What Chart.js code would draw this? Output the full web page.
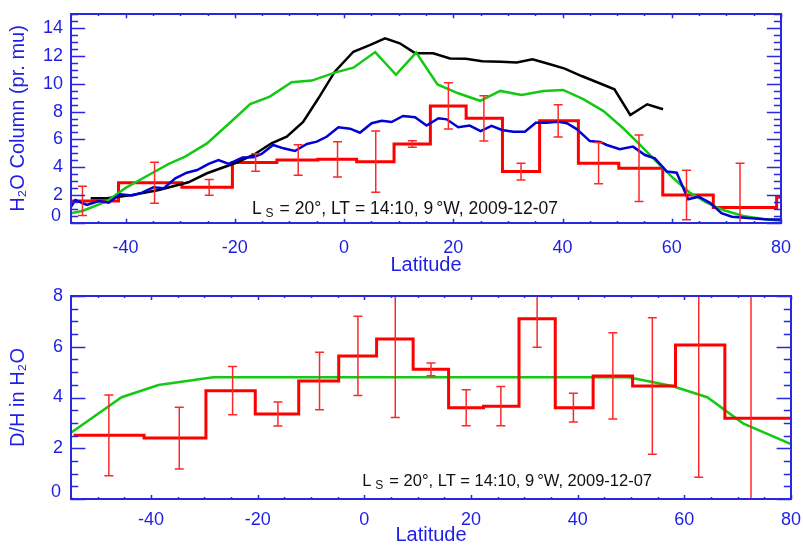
<!DOCTYPE html>
<html>
<head>
<meta charset="utf-8">
<script src="https://cdn.jsdelivr.net/npm/chart.js@4.4.1/dist/chart.umd.min.js"></script>
<style>
  body { margin: 0; background: #fff; }
  #wrap { position: relative; width: 803px; height: 545px; }
  #wrap canvas { position: absolute; left: 0; top: 0; }
</style>
</head>
<body>
<div id="wrap">
  <canvas id="h2oChart" width="803" height="545"></canvas>
  <canvas id="dhChart" width="803" height="545"></canvas>
</div>
<script>
// latitude bins shared by both retrievals (bin centres)
const latBins = [-47.9, -34.7, -24.7, -16.2, -8.4, -1.2, 5.8, 12.5, 19.1, 25.6, 32.4, 39.2, 46.6, 54.0, 62.7, 72.5, 85.9];
const h2oObs  = [1.58, 2.89, 2.56, 4.34, 4.52, 4.57, 4.40, 5.67, 8.40, 7.51, 3.69, 7.33, 4.29, 3.93, 2.01, 1.12, 1.84];
const h2oErr  = [1.05, 1.47, 0.56, 0.63, 1.10, 1.26, 2.20, 0.24, 1.66, 1.62, 0.60, 1.15, 1.48, 2.38, 1.77, 3.16, null];
const dhObs   = [2.51, 2.40, 4.27, 3.35, 4.65, 5.64, 6.31, 5.11, 3.60, 3.66, 7.10, 3.60, 4.85, 4.45, 6.07, 3.18, 3.18];
const dhErr   = [1.59, 1.22, 0.95, 0.47, 1.13, 1.56, 3.10, 0.25, 0.71, 0.77, 1.12, 0.57, 1.70, 2.69, 5.21, 5.18, null];

// black curve
const blackLat = [-46.4, -43.4, -38.8, -33.9, -28.5, -25.1, -20.0, -16.6, -13.3, -10.5, -7.5, -4.7, -1.7, 1.7, 4.7, 7.5, 10.2, 13.0, 16.3, 19.4, 22.3, 25.3, 28.7, 31.6, 34.5, 37.7, 40.4, 43.6, 46.9, 49.5, 52.4, 55.5, 58.4];
const blackH2O = [1.77, 1.77, 2.01, 2.37, 2.92, 3.57, 4.29, 4.88, 5.72, 6.19, 7.26, 8.95, 10.86, 12.29, 12.77, 13.26, 12.90, 12.19, 12.18, 11.81, 11.78, 11.61, 11.58, 11.52, 11.75, 11.39, 11.08, 10.53, 10.01, 9.60, 7.75, 8.52, 8.16];

// green curve
const greenLat = [-50, -47.8, -43.5, -40.0, -35.2, -32.1, -29.1, -25.1, -20.0, -17.2, -13.6, -9.6, -5.9, -1.7, 1.7, 5.7, 9.5, 13.2, 17.1, 20.9, 24.9, 28.6, 32.5, 36.5, 40.1, 43.8, 47.5, 51.1, 54.2, 57.2, 60.3, 63.3, 66.4, 69.4, 73.1, 76.7, 80];
const greenH2O = [0.70, 0.88, 1.55, 2.52, 3.57, 4.24, 4.76, 5.71, 7.52, 8.54, 9.07, 10.10, 10.22, 10.79, 11.15, 12.27, 10.64, 12.23, 9.94, 9.31, 8.77, 9.48, 9.19, 9.48, 9.55, 8.89, 8.03, 6.80, 5.60, 4.40, 3.21, 2.18, 1.46, 0.93, 0.50, 0.29, 0.16];

// blue curve
const blueLat = [-50, -49.2, -47.1, -44.9, -43.1, -41.0, -38.8, -37.0, -34.9, -33.0, -30.9, -28.8, -26.9, -24.8, -23.0, -21.1, -18.6, -16.6, -15.1, -13.0, -11.1, -9.0, -6.8, -5.0, -3.2, -1.05, 1.1, 2.9, 5.05, 6.9, 8.7, 10.8, 13.0, 15.1, 17.3, 18.8, 20.9, 23.0, 25.0, 27.0, 28.9, 31.0, 33.1, 35.1, 37.1, 39.2, 40.8, 42.6, 45.0, 46.9, 48.1, 50.5, 52.9, 55.1, 56.9, 59.1, 60.9, 63.0, 64.9, 67.0, 69.1, 71.0, 74.6, 77.7, 80];
const blueH2O = [1.17, 1.65, 1.30, 1.58, 1.45, 2.06, 1.98, 2.18, 2.56, 2.49, 3.21, 3.61, 3.80, 4.24, 4.52, 4.24, 4.70, 4.71, 4.95, 5.60, 5.36, 5.17, 5.67, 5.84, 6.19, 6.87, 6.77, 6.48, 7.16, 7.34, 7.25, 7.68, 7.59, 6.99, 7.52, 7.44, 6.87, 6.99, 6.60, 6.97, 6.68, 6.55, 6.55, 7.20, 7.20, 7.27, 7.16, 6.74, 5.88, 5.82, 5.60, 5.29, 5.48, 4.88, 4.64, 3.69, 3.61, 1.70, 1.89, 1.45, 0.70, 0.45, 0.34, 0.26, 0.26];

// D/H model (green, lower panel)
const dhModelLat = [-55, -45.5, -38.6, -28.3, 49.5, 57.7, 64.3, 71.0, 80];
const dhModel    = [2.61, 4.01, 4.49, 4.80, 4.80, 4.45, 4.01, 2.98, 2.16];

const BLUE_TXT = 'rgb(30,30,230)';
const FONT = '"Liberation Sans", Arial, sans-serif';
Chart.defaults.font.family = FONT;

function pairs(xs, ys) {
    return xs.map((x, i) => ({x: x, y: ys[i]}));
}

// histogram style: each value spans half way to its neighbours
function histPoints(xs, ys) {
    let pts = [];
    for (let i = 0; i < xs.length; i++) {
        let lo = i > 0 ? (xs[i - 1] + xs[i]) / 2 : xs[0] - (xs[1] - xs[0]) / 2;
        let hi = i < xs.length - 1 ? (xs[i] + xs[i + 1]) / 2 : xs[i] + (xs[i] - xs[i - 1]) / 2;
        pts.push({x: lo, y: ys[i]}, {x: hi, y: ys[i]});
    }
    return pts;
}

// IDL style inward ticks and frame; the "0" label sits a bit above the axis
const idlFrame = {
    id: 'idlFrame',
    afterDraw(chart, args, o) {
        let ctx = chart.ctx, a = chart.chartArea;
        let x = chart.scales.x, y = chart.scales.y;
        ctx.save();
        ctx.strokeStyle = 'rgb(40,40,225)';
        ctx.lineWidth = 1.5;
        ctx.beginPath();
        let xl = a.height * 0.02, yl = a.width * 0.02;
        for (let v = Math.ceil(x.min / o.xMinor) * o.xMinor; v <= x.max + 1e-6; v += o.xMinor) {
            let px = Math.round(x.getPixelForValue(v)) + 0.5;
            let len = Math.abs(v % o.xMajor) < 1e-6 ? xl : xl / 2;
            ctx.moveTo(px, a.bottom); ctx.lineTo(px, a.bottom - len);
            ctx.moveTo(px, a.top); ctx.lineTo(px, a.top + len);
        }
        for (let v = Math.ceil(y.min / o.yMinor) * o.yMinor; v <= y.max + 1e-6; v += o.yMinor) {
            let py = Math.round(y.getPixelForValue(v)) + 0.5;
            let len = Math.abs(v % o.yMajor) < 1e-6 ? yl : yl / 2;
            ctx.moveTo(a.left, py); ctx.lineTo(a.left + len, py);
            ctx.moveTo(a.right, py); ctx.lineTo(a.right - len, py);
        }
        ctx.stroke();
        ctx.lineWidth = 2;
        ctx.strokeRect(a.left, a.top, a.right - a.left, a.bottom - a.top);

        ctx.fillStyle = BLUE_TXT;
        ctx.font = '18px ' + FONT;
        ctx.textAlign = 'right';
        ctx.textBaseline = 'middle';
        ctx.fillText('0', a.left - 10, y.getPixelForValue(0) - 7);
        ctx.restore();
    }
};

const errorBars = {
    id: 'errorBars',
    afterDatasetsDraw(chart, args, o) {
        let ctx = chart.ctx, a = chart.chartArea;
        let x = chart.scales.x, y = chart.scales.y;
        ctx.save();
        ctx.beginPath();
        ctx.rect(a.left, a.top, a.right - a.left, a.bottom - a.top);
        ctx.clip();
        ctx.strokeStyle = 'rgb(255,40,40)';
        ctx.lineWidth = 1.5;
        ctx.beginPath();
        o.xs.forEach((lat, i) => {
            let e = o.errs[i];
            if (e == null) return;
            let px = x.getPixelForValue(lat);
            let y1 = y.getPixelForValue(o.ys[i] + e);
            let y2 = y.getPixelForValue(o.ys[i] - e);
            ctx.moveTo(px, y1); ctx.lineTo(px, y2);
            ctx.moveTo(px - 4.5, y1); ctx.lineTo(px + 4.5, y1);
            ctx.moveTo(px - 4.5, y2); ctx.lineTo(px + 4.5, y2);
        });
        ctx.stroke();
        ctx.restore();
    }
};

// "Ls = 20°, LT = 14:10, 9°W, 2009-12-07" label
const obsLabel = {
    id: 'obsLabel',
    afterDraw(chart, args, o) {
        let ctx = chart.ctx;
        let big = o.size + 'px ' + FONT, small = '12px ' + FONT;
        let parts = [
            ['L', big, 0, 4], ['S', small, 3, 6], ['= 20°, LT = 14:10, 9', big, 0, 3],
            ['°W, 2009-12-07', big, 0, 0]
        ];
        let total = 0;
        parts.forEach(p => { ctx.font = p[1]; total += ctx.measureText(p[0]).width + p[3]; });
        let cx = o.right - total;
        ctx.save();
        ctx.fillStyle = '#111';
        ctx.textBaseline = 'alphabetic';
        ctx.textAlign = 'left';
        parts.forEach(p => {
            ctx.font = p[1];
            ctx.fillText(p[0], cx, o.baseline + p[2]);
            cx += ctx.measureText(p[0]).width + p[3];
        });
        ctx.restore();
    }
};

function axes(xmin, xmax, ymax, yTitle, xHeight, tickPad, xTitlePad) {
    return {
        x: {
            type: 'linear', min: xmin, max: xmax,
            afterFit: s => { s.height = xHeight; },
            grid: {display: false}, border: {display: false},
            ticks: {stepSize: 20, includeBounds: false, color: BLUE_TXT, padding: tickPad, maxRotation: 0,
                    font: {size: 18}},
            title: {display: true, text: 'Latitude', color: BLUE_TXT, font: {size: 20, lineHeight: 1},
                    padding: {top: 0, bottom: xTitlePad}}
        },
        y: {
            type: 'linear', min: 0, max: ymax,
            afterFit: s => { s.width = 71; },
            grid: {display: false}, border: {display: false},
            ticks: {stepSize: 2, includeBounds: false, padding: 0, font: {size: 18},
                    // zero is drawn by idlFrame, lifted off the axis
                    color: c => (c.tick && c.tick.value === 0) ? 'rgba(0,0,0,0)' : BLUE_TXT},
            title: {display: true, text: yTitle, color: BLUE_TXT, font: {size: 20},
                    padding: {top: 6, bottom: 0}}
        }
    };
}

function baseLine(data, color, width, order) {
    return {data: data, borderColor: color, borderWidth: width, pointRadius: 0,
            showLine: true, fill: false, tension: 0, order: order, clip: 0};
}

document.addEventListener('DOMContentLoaded', function() {
    new Chart(document.getElementById('h2oChart').getContext('2d'), {
        type: 'scatter',
        data: {
            datasets: [
                baseLine(pairs(blueLat, blueH2O), 'rgb(0,0,215)', 2.5, 1),
                baseLine(pairs(greenLat, greenH2O), 'rgb(20,200,20)', 2.5, 2),
                baseLine(pairs(blackLat, blackH2O), '#000', 2.5, 3),
                baseLine(histPoints(latBins, h2oObs), 'rgb(255,0,0)', 3, 4)
            ]
        },
        options: {
            responsive: false, animation: false, events: [],
            layout: {padding: {top: 14, right: 22, bottom: 265, left: 0}},
            scales: axes(-50, 80, 15, 'H\u2082O Column (pr. mu)', 57, 6, 5),
            plugins: {
                legend: {display: false}, tooltip: {enabled: false},
                errorBars: {xs: latBins, ys: h2oObs, errs: h2oErr},
                idlFrame: {xMinor: 5, xMajor: 20, yMinor: 0.5, yMajor: 2},
                obsLabel: {right: 558, baseline: 214, size: 17.5}
            }
        },
        plugins: [errorBars, idlFrame, obsLabel]
    });

    new Chart(document.getElementById('dhChart').getContext('2d'), {
        type: 'scatter',
        data: {
            datasets: [
                baseLine(histPoints(latBins, dhObs), 'rgb(255,0,0)', 3, 1),
                baseLine(pairs(dhModelLat, dhModel), 'rgb(20,200,20)', 2.5, 2)
            ]
        },
        options: {
            responsive: false, animation: false, events: [],
            layout: {padding: {top: 296, right: 10, bottom: 0, left: 0}},
            scales: axes(-55, 80, 8, 'D/H in H\u2082O', 46, 2, 0),
            plugins: {
                legend: {display: false}, tooltip: {enabled: false},
                errorBars: {xs: latBins, ys: dhObs, errs: dhErr},
                idlFrame: {xMinor: 5, xMajor: 20, yMinor: 0.5, yMajor: 2},
                obsLabel: {right: 652, baseline: 486, size: 16.5}
            }
        },
        plugins: [errorBars, idlFrame, obsLabel]
    });
});
</script>
</body>
</html>
